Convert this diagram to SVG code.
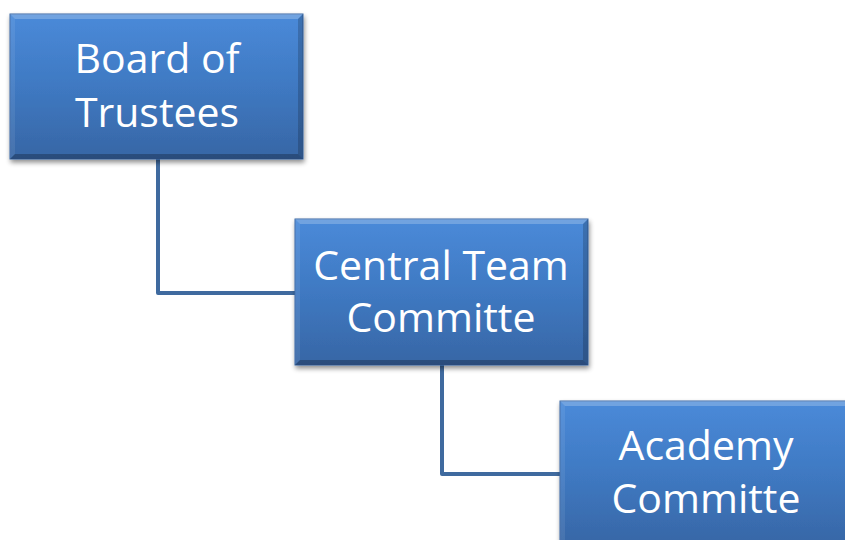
<svg xmlns="http://www.w3.org/2000/svg" width="845" height="540" viewBox="0 0 845 540">
<defs>
<linearGradient id="fill" x1="0" y1="0" x2="0" y2="1">
<stop offset="0" stop-color="#4a8ad9"/>
<stop offset="0.5" stop-color="#3f79c2"/>
<stop offset="1" stop-color="#3766a5"/>
</linearGradient>
<filter id="sh" x="-10%" y="-10%" width="125%" height="130%">
<feGaussianBlur in="SourceAlpha" stdDeviation="2.5"/>
<feOffset dx="1" dy="3" result="b"/>
<feComponentTransfer><feFuncA type="linear" slope="0.45"/></feComponentTransfer>
<feMerge><feMergeNode/><feMergeNode in="SourceGraphic"/></feMerge>
</filter>
</defs>
<style>
.box{fill:url(#fill);stroke:#3a67a3;stroke-width:1}
.bt{fill:#ffffff;fill-opacity:0.22}
.bl{fill:#ffffff;fill-opacity:0.08}
.br{fill:#000000;fill-opacity:0.18}
.bb{fill:#000000;fill-opacity:0.25}
.lbl{font-family:"Open Sans","Liberation Sans",sans-serif;font-size:41px;fill:#ffffff;text-anchor:middle}
.conn{fill:none;stroke:#3f6a9f;stroke-width:4;stroke-linejoin:round}
</style>
<rect width="845" height="540" fill="#ffffff"/>
<g id="connectors">
<path class="conn" d="M158,158 V293 H296"/>
<path class="conn" d="M442,364 V474 H561"/>
</g>
<g id="board">
<g filter="url(#sh)">
<rect class="box" x="10" y="14" width="293" height="145"/>
<polygon class="bt" points="10,14 303,14 298,19 15,19"/>
<polygon class="bl" points="10,14 15,19 15,154 10,159"/>
<polygon class="br" points="303,14 303,159 298,154 298,19"/>
<polygon class="bb" points="10,159 303,159 298,154 15,154"/>
</g>
<text class="lbl" x="157" y="73">Board of</text>
<text class="lbl" x="157" y="127">Trustees</text>
</g>
<g id="central">
<g filter="url(#sh)">
<rect class="box" x="295" y="219" width="293" height="146"/>
<polygon class="bt" points="295,219 588,219 583,224 300,224"/>
<polygon class="bl" points="295,219 300,224 300,360 295,365"/>
<polygon class="br" points="588,219 588,365 583,360 583,224"/>
<polygon class="bb" points="295,365 588,365 583,360 300,360"/>
</g>
<text class="lbl" x="441" y="280">Central Team</text>
<text class="lbl" x="441" y="332">Committe</text>
</g>
<g id="academy">
<g filter="url(#sh)">
<rect class="box" x="560" y="401" width="293" height="146"/>
<polygon class="bt" points="560,401 853,401 848,406 565,406"/>
<polygon class="bl" points="560,401 565,406 565,542 560,547"/>
</g>
<text class="lbl" x="706" y="460">Academy</text>
<text class="lbl" x="706" y="513">Committe</text>
</g>
</svg>
